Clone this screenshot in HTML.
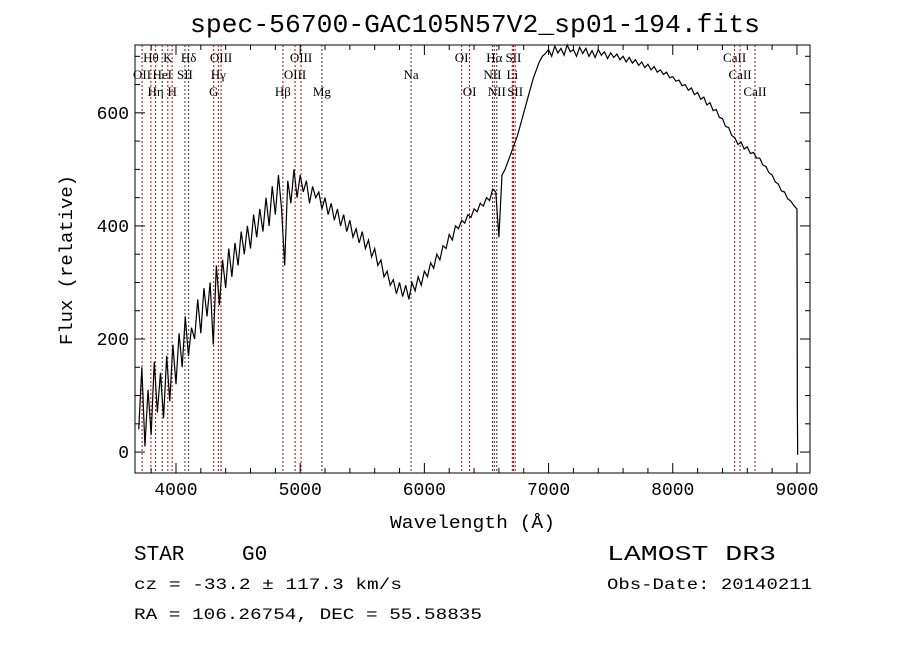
<!DOCTYPE html>
<html><head><meta charset="utf-8"><style>
body{margin:0;background:#fff}
svg{display:block}
.mono{font-family:"Liberation Mono",monospace}
.ser{font-family:"Liberation Serif",serif;font-size:13px}
</style></head><body>
<svg id="c" width="900" height="649" xmlns="http://www.w3.org/2000/svg">
<text class="mono" x="190" y="32" font-size="26" textLength="570" lengthAdjust="spacingAndGlyphs">spec-56700-GAC105N57V2_sp01-194.fits</text>
<rect x="135" y="45" width="675" height="428" fill="none" stroke="#000" stroke-width="1"/>
<g id="lines"></g><g id="ticks"></g><g id="spec"></g>
<text class="mono" x="390" y="528" font-size="18" textLength="165" lengthAdjust="spacingAndGlyphs">Wavelength (Å)</text>
<text class="mono" x="0" y="0" font-size="18" textLength="170" lengthAdjust="spacingAndGlyphs" transform="translate(72,345) rotate(-90)">Flux (relative)</text>
<text class="mono" x="134" y="560" font-size="21">STAR</text>
<text class="mono" x="242" y="560" font-size="21">G0</text>
<text class="mono" x="607" y="560" font-size="21" textLength="169" lengthAdjust="spacingAndGlyphs">LAMOST DR3</text>
<text class="mono" x="134" y="589" font-size="16" textLength="268" lengthAdjust="spacingAndGlyphs">cz = -33.2 ± 117.3 km/s</text>
<text class="mono" x="607" y="589" font-size="16" textLength="205" lengthAdjust="spacingAndGlyphs">Obs-Date: 20140211</text>
<text class="mono" x="134" y="619" font-size="16" textLength="348" lengthAdjust="spacingAndGlyphs">RA = 106.26754, DEC =  55.58835</text>
</svg>
<script>
const flux=[40,150,10,110,30,160,70,140,60,170,90,190,
120,210,150,240,170,220,200,270,210,290,240,300,
190,330,260,340,290,360,310,370,330,390,350,400,
360,420,380,430,390,450,400,470,420,490,430,330,
480,440,500,450,490,460,480,440,470,450,460,430,
450,420,440,410,430,400,420,390,410,380,395,370,
390,360,375,345,360,330,340,310,320,295,305,280,
300,275,295,270,300,285,310,295,320,310,335,325,
350,340,365,360,385,375,400,395,410,405,420,415,
430,425,440,435,450,445,465,460,380,490,500,515,
530,545,560,580,600,620,640,660,675,690,700,705,
712,700,718,706,714,702,720,708,712,700,716,705,
714,700,710,698,712,702,708,696,706,698,704,694,
700,690,698,688,694,684,690,680,686,676,682,672,
676,668,672,662,664,656,658,648,650,640,644,632,
636,624,628,614,618,604,606,592,590,576,574,560,
556,544,548,536,540,528,530,520,520,508,505,494,
490,478,474,462,460,448,444,436,
430,80,-5];
const waveStart=3700, waveStep=25;
const wavelengths=[];
for(let i=0;i<flux.length-2;i++)wavelengths.push(waveStart+i*waveStep);
wavelengths.push(9003,9006);
const lineNames=["OII","Hθ","Hη","HeI","K","H","SII","Hδ","G","Hγ","OIII","Hβ","OIII","OIII","Mg","Na","OI","OI","NII","Hα","NII","Li","SII","SII","CaII","CaII","CaII"];
const lineWaves=[3727,3798,3836,3889,3934,3969,4072,4102,4304,4341,4363,4861,4959,5007,5175,5893,6300,6364,6548,6563,6583,6708,6717,6731,8498,8542,8662];
const lineRows=[1,0,2,1,0,2,1,0,2,1,0,2,1,0,2,1,0,2,1,0,2,1,0,2,0,1,2];
const lineRed=[1,1,1,0,1,1,0,0,1,1,1,1,1,1,0,0,1,1,0,1,0,1,1,1,1,1,1];
const xTicks=[4000,5000,6000,7000,8000,9000];
const yTicks=[0,200,400,600];
const X0=135,X1=810,Y0=45,Y1=473,WMIN=3670,WMAX=9105,FMIN=-37,FMAX=720;
const xs=w=>X0+(w-WMIN)/(WMAX-WMIN)*(X1-X0);
const ys=f=>Y1-(f-FMIN)/(FMAX-FMIN)*(Y1-Y0);
const NS="http://www.w3.org/2000/svg";
function mk(t,a,p){const e=document.createElementNS(NS,t);for(const k in a)e.setAttribute(k,a[k]);p.appendChild(e);return e;}
const gl=document.getElementById('lines'),gt=document.getElementById('ticks'),gs=document.getElementById('spec');
lineWaves.forEach((w,i)=>{const x=xs(w);
 const l=mk('line',{x1:x,x2:x,y1:Y0,y2:Y1,stroke:lineRed[i]?'#c00000':'#333','stroke-width':1,'stroke-dasharray':'2,2'},gl);
 
 
 const t=mk('text',{x:x,y:62+lineRows[i]*17,'text-anchor':'middle',class:'ser'},gl);t.textContent=lineNames[i];
 
 });
for(let w=3800;w<=9100;w+=200){const x=xs(w),maj=w%1000===0,L=maj?10:5;
 mk('line',{x1:x,x2:x,y1:Y1,y2:Y1-L,stroke:'#000'},gt);mk('line',{x1:x,x2:x,y1:Y0,y2:Y0+L,stroke:'#000'},gt);}
for(let f=0;f<=700;f+=50){const y=ys(f),maj=f%200===0,L=maj?10:5;
 mk('line',{x1:X0,x2:X0+L,y1:y,y2:y,stroke:'#000'},gt);mk('line',{x1:X1,x2:X1-L,y1:y,y2:y,stroke:'#000'},gt);}
xTicks.forEach(v=>{const t=mk('text',{x:xs(v),y:Y1+22,'text-anchor':'middle',class:'mono','font-size':18},gt);t.textContent=v;
 
 });
yTicks.forEach(v=>{const t=mk('text',{x:X0-6,y:ys(v)+6,'text-anchor':'end',class:'mono','font-size':18},gt);t.textContent=v;
 
 });
const p=mk('polyline',{points:wavelengths.map((w,i)=>xs(w)+','+ys(flux[i])).join(' '),fill:'none',stroke:'#000','stroke-width':1.2},gs);


</script>
</body></html>
